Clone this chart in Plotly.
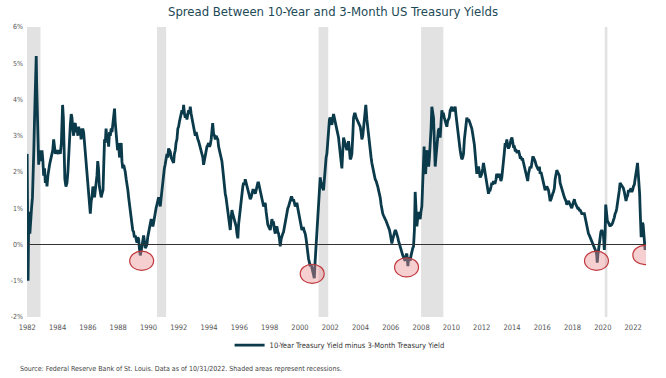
import plotly.graph_objects as go

# ---- data (year fraction, spread in %) ----
years = [
1981.99,1982.03,1982.05,1982.08,1982.12,1982.17,1982.22,1982.28,1982.34,1982.38,1982.43,1982.48,1982.53,1982.57,1982.59,1982.62,1982.66,1982.70,1982.75,1982.80,1982.86,1982.92,1982.97,
1983.03,1983.08,1983.14,1983.19,1983.25,1983.30,1983.36,1983.41,1983.47,1983.52,1983.60,1983.68,1983.74,1983.80,1983.85,1983.91,1983.96,
1984.05,1984.12,1984.18,1984.25,1984.30,1984.33,1984.38,1984.43,1984.48,1984.55,1984.62,1984.68,1984.73,1984.79,1984.84,1984.90,1984.95,
1985.00,1985.06,1985.12,1985.17,1985.23,1985.28,1985.34,1985.39,1985.45,1985.50,1985.55,1985.60,1985.66,1985.72,1985.78,1985.83,1985.89,1985.94,
1986.00,1986.05,1986.10,1986.16,1986.22,1986.27,1986.33,1986.38,1986.44,1986.49,1986.55,1986.60,1986.65,1986.70,1986.76,1986.82,1986.88,1986.93,
1987.00,1987.04,1987.10,1987.15,1987.20,1987.26,1987.32,1987.37,1987.43,1987.48,1987.54,1987.59,1987.65,1987.70,1987.76,1987.80,1987.85,1987.90,1987.96,
1988.02,1988.09,1988.15,1988.20,1988.25,1988.30,1988.36,1988.42,1988.47,1988.53,1988.58,1988.64,1988.69,1988.75,1988.80,1988.85,1988.90,1988.96,
1989.02,1989.07,1989.13,1989.18,1989.24,1989.30,1989.35,1989.40,1989.46,1989.51,1989.57,1989.62,1989.68,1989.73,1989.79,1989.85,1989.90,1989.95,
1990.00,1990.06,1990.12,1990.18,1990.23,1990.29,1990.34,1990.40,1990.45,1990.50,1990.56,1990.62,1990.67,1990.73,1990.78,1990.84,1990.89,1990.95,
1991.00,1991.05,1991.10,1991.16,1991.22,1991.27,1991.33,1991.38,1991.44,1991.50,1991.55,1991.60,1991.66,1991.71,1991.77,1991.82,1991.88,1991.94,1991.99,
1992.05,1992.10,1992.16,1992.21,1992.27,1992.32,1992.38,1992.43,1992.49,1992.54,1992.60,1992.65,1992.71,1992.76,1992.82,1992.87,1992.93,1992.98,
1993.04,1993.09,1993.15,1993.20,1993.26,1993.31,1993.37,1993.42,1993.48,1993.53,1993.59,1993.64,1993.70,1993.75,1993.81,1993.86,1993.92,1993.97,
1994.03,1994.08,1994.14,1994.19,1994.24,1994.30,1994.36,1994.41,1994.47,1994.52,1994.58,1994.63,1994.69,1994.74,1994.80,1994.85,1994.90,1994.96,
1995.01,1995.07,1995.12,1995.18,1995.23,1995.29,1995.34,1995.40,1995.45,1995.51,1995.56,1995.62,1995.68,1995.73,1995.79,1995.84,1995.90,1995.95,
1996.01,1996.06,1996.12,1996.17,1996.23,1996.28,1996.34,1996.39,1996.45,1996.50,1996.56,1996.61,1996.67,1996.72,1996.78,1996.83,1996.89,1996.94,
1997.00,1997.05,1997.11,1997.16,1997.22,1997.27,1997.33,1997.38,1997.44,1997.49,1997.55,1997.60,1997.66,1997.71,1997.77,1997.82,1997.88,1997.93,1997.99,
1998.04,1998.10,1998.15,1998.20,1998.26,1998.32,1998.37,1998.43,1998.48,1998.54,1998.59,1998.65,1998.70,1998.76,1998.81,1998.87,1998.92,1998.98,
1999.03,1999.09,1999.14,1999.20,1999.25,1999.31,1999.36,1999.42,1999.47,1999.53,1999.58,1999.64,1999.69,1999.75,1999.80,1999.86,1999.91,1999.97,
2000.02,2000.08,2000.13,2000.19,2000.24,2000.30,2000.35,2000.41,2000.46,2000.52,2000.57,2000.63,2000.68,2000.74,2000.79,2000.85,2000.90,2000.95,
2001.00,2001.06,2001.12,2001.17,2001.23,2001.28,2001.34,2001.40,2001.45,2001.50,2001.56,2001.62,2001.67,2001.73,2001.78,2001.84,2001.89,2001.95,
2002.00,2002.05,2002.11,2002.16,2002.22,2002.27,2002.33,2002.38,2002.44,2002.50,2002.55,2002.60,2002.66,2002.72,2002.77,2002.82,2002.88,2002.94,2002.99,
2003.05,2003.10,2003.16,2003.21,2003.27,2003.32,2003.38,2003.43,2003.49,2003.54,2003.60,2003.65,2003.71,2003.76,2003.82,2003.87,2003.93,2003.98,
2004.04,2004.09,2004.15,2004.20,2004.26,2004.31,2004.35,2004.42,2004.48,2004.53,2004.59,2004.64,2004.70,2004.75,2004.81,2004.86,2004.92,2004.97,
2005.03,2005.08,2005.14,2005.19,2005.25,2005.30,2005.36,2005.41,2005.47,2005.52,2005.58,2005.63,2005.69,2005.74,2005.80,2005.85,2005.91,2005.96,
2006.02,2006.07,2006.13,2006.18,2006.24,2006.29,2006.35,2006.40,2006.46,2006.51,2006.57,2006.62,2006.68,2006.73,2006.79,2006.84,2006.90,2006.95,
2007.01,2007.06,2007.10,2007.13,2007.18,2007.23,2007.28,2007.34,2007.39,2007.45,2007.50,2007.56,2007.61,2007.66,2007.72,2007.77,2007.83,2007.88,2007.94,2007.99,
2008.05,2008.10,2008.16,2008.20,2008.25,2008.30,2008.35,2008.40,2008.45,2008.50,2008.55,2008.60,2008.66,2008.71,2008.76,2008.82,2008.88,2008.93,2008.98,
2009.04,2009.09,2009.14,2009.20,2009.26,2009.31,2009.37,2009.42,2009.48,2009.53,2009.59,2009.64,2009.70,2009.75,2009.81,2009.86,2009.92,2009.97,
2010.03,2010.08,2010.14,2010.20,2010.25,2010.31,2010.36,2010.42,2010.47,2010.53,2010.58,2010.64,2010.69,2010.75,2010.80,2010.86,2010.91,2010.97,
2011.02,2011.08,2011.13,2011.19,2011.24,2011.30,2011.35,2011.41,2011.46,2011.52,2011.57,2011.63,2011.68,2011.74,2011.79,2011.85,2011.90,2011.96,
2012.01,2012.07,2012.12,2012.18,2012.23,2012.29,2012.34,2012.40,2012.45,2012.51,2012.56,2012.62,2012.67,2012.73,2012.78,2012.84,2012.89,2012.95,2012.99,
2013.05,2013.10,2013.16,2013.22,2013.27,2013.33,2013.38,2013.44,2013.50,2013.55,2013.61,2013.66,2013.72,2013.77,2013.83,2013.88,2013.94,
2014.00,2014.05,2014.10,2014.16,2014.21,2014.27,2014.32,2014.38,2014.43,2014.49,2014.54,2014.60,2014.65,2014.71,2014.76,2014.82,2014.87,2014.93,2014.98,
2015.04,2015.09,2015.15,2015.20,2015.26,2015.31,2015.37,2015.42,2015.48,2015.53,2015.59,2015.64,2015.70,2015.75,2015.81,2015.86,2015.92,2015.97,
2016.03,2016.08,2016.14,2016.19,2016.25,2016.30,2016.36,2016.41,2016.47,2016.52,2016.58,2016.63,2016.69,2016.74,2016.80,2016.85,2016.91,2016.96,
2017.02,2017.07,2017.13,2017.18,2017.24,2017.29,2017.35,2017.40,2017.46,2017.51,2017.57,2017.62,2017.68,2017.73,2017.79,2017.84,2017.90,2017.95,
2018.01,2018.06,2018.12,2018.17,2018.23,2018.28,2018.34,2018.39,2018.45,2018.50,2018.56,2018.61,2018.67,2018.72,2018.78,2018.83,2018.89,2018.94,
2019.00,2019.05,2019.11,2019.16,2019.22,2019.27,2019.33,2019.38,2019.44,2019.49,2019.55,2019.60,2019.63,2019.67,2019.71,2019.76,2019.82,2019.87,2019.93,2019.98,
2020.04,2020.10,2020.15,2020.19,2020.24,2020.30,2020.37,2020.43,2020.48,2020.54,2020.59,2020.65,2020.70,2020.76,2020.81,2020.87,2020.92,2020.98,
2021.03,2021.09,2021.14,2021.20,2021.25,2021.31,2021.36,2021.42,2021.47,2021.53,2021.58,2021.64,2021.69,2021.75,2021.80,2021.86,2021.91,2021.97,
2022.02,2022.08,2022.13,2022.18,2022.24,2022.29,2022.33,2022.38,2022.43,2022.46,2022.50,2022.53,2022.57,2022.62,2022.66,2022.70,2022.74,2022.79,2022.83,
]

spread = [
2.5,0.8,-1.0,0.2,0.9,0.3,0.8,1.0,1.3,1.7,2.6,3.5,4.4,5.0,5.2,4.4,3.7,2.9,2.2,2.5,2.6,2.3,2.6,
2.3,1.9,2.1,1.7,1.9,1.6,1.9,2.1,2.2,2.3,2.5,2.6,2.9,2.6,2.5,2.6,2.55,
2.5,2.6,2.5,2.8,3.6,3.85,3.5,2.4,1.8,1.6,1.7,2.0,2.5,3.0,3.3,3.6,3.5,
3.2,3.0,3.3,3.35,3.1,3.2,3.0,3.25,3.1,3.2,2.9,3.0,3.2,3.1,2.8,2.5,2.3,2.0,
1.7,1.5,1.1,0.85,1.2,1.3,1.6,1.4,1.3,1.5,1.7,1.9,2.3,2.1,1.6,1.4,1.3,1.4,
1.5,2.1,2.9,2.8,3.2,2.9,3.0,2.7,3.1,3.0,3.2,3.1,3.3,3.6,3.75,3.4,3.2,2.9,2.6,
2.8,2.4,2.6,2.8,2.3,2.1,2.2,2.1,2.0,1.8,1.7,1.5,1.3,1.1,0.9,0.7,0.6,0.4,
0.35,0.2,0.25,0.1,0.05,0.2,0.15,-0.1,-0.3,-0.2,-0.05,0.2,0.25,0.1,-0.1,-0.05,0.0,0.2,
0.3,0.4,0.5,0.7,0.6,0.5,0.6,0.8,0.9,1.0,1.1,1.2,1.3,1.2,1.05,1.3,1.55,1.8,
1.95,2.1,2.2,2.4,2.5,2.4,2.65,2.6,2.55,2.4,2.35,2.3,2.25,2.5,2.6,2.8,2.9,3.2,3.25,
3.4,3.5,3.6,3.7,3.6,3.85,3.6,3.5,3.6,3.45,3.6,3.7,3.6,3.8,3.6,3.5,3.4,3.3,
3.2,3.0,3.1,2.95,2.9,2.85,2.75,2.7,2.6,2.5,2.4,2.2,2.35,2.45,2.6,2.7,2.75,2.8,
2.7,2.75,2.9,3.25,3.35,3.05,3.0,2.9,3.0,2.95,2.9,2.7,2.6,2.5,2.45,2.3,2.1,1.8,
1.6,1.4,1.3,1.1,0.9,0.7,0.55,0.4,0.7,0.95,0.85,0.75,0.7,0.65,0.5,0.3,0.17,0.55,
0.8,0.95,1.2,1.4,1.6,1.7,1.65,1.8,1.7,1.6,1.5,1.5,1.35,1.25,1.3,1.4,1.5,1.5,
1.45,1.4,1.5,1.6,1.7,1.7,1.6,1.5,1.4,1.3,1.15,1.05,1.1,1.15,0.9,0.7,0.55,0.5,0.45,
0.4,0.55,0.7,0.6,0.6,0.4,0.3,0.45,0.5,0.35,0.3,0.15,-0.05,0.15,0.25,0.3,0.35,0.5,
0.6,0.75,0.9,1.0,1.05,1.15,1.25,1.3,1.3,1.2,1.25,1.15,1.05,1.1,1.15,1.0,0.9,0.75,
0.65,0.5,0.4,0.45,0.45,0.35,0.3,0.15,-0.05,-0.25,-0.4,-0.5,-0.6,-0.55,-0.65,-0.7,-0.8,-0.93,
-0.5,-0.1,0.2,0.6,1.0,1.5,1.85,1.7,1.6,1.55,1.5,1.9,2.3,2.4,2.5,2.9,3.25,3.45,
3.5,3.4,3.3,3.45,3.6,3.5,3.4,3.3,3.2,3.05,2.95,2.75,2.5,2.3,2.1,2.5,2.95,2.85,2.75,
2.7,2.6,2.75,2.85,2.6,2.35,2.4,2.5,3.0,3.5,3.6,3.6,3.5,3.45,3.4,3.35,3.3,3.25,
3.1,2.9,3.0,3.25,3.55,3.8,3.85,3.45,3.2,2.95,2.75,2.5,2.4,2.25,2.1,1.95,1.85,1.8,
1.75,1.7,1.6,1.5,1.4,1.3,1.1,0.95,0.85,0.8,0.7,0.7,0.65,0.6,0.55,0.5,0.4,0.3,
0.15,0.03,0.15,0.25,0.35,0.4,0.35,0.3,0.2,0.1,0.0,-0.05,-0.15,-0.25,-0.3,-0.35,-0.4,-0.45,
-0.3,-0.25,-0.45,-0.6,-0.35,-0.4,-0.45,-0.3,-0.15,-0.1,-0.05,0.4,1.45,0.7,0.5,0.7,0.9,0.8,0.7,0.9,
1.05,1.6,2.3,2.7,2.0,1.95,2.4,2.6,2.3,2.15,2.4,2.7,3.2,3.8,3.6,3.5,2.8,2.15,2.4,
2.7,2.9,3.15,3.2,2.95,3.3,3.7,3.6,3.6,3.5,3.4,3.35,3.25,3.4,3.5,3.5,3.7,3.75,
3.8,3.7,3.7,3.75,3.8,3.55,3.35,3.15,2.95,2.8,2.6,2.45,2.35,2.4,2.5,2.9,3.15,3.3,
3.5,3.4,3.45,3.4,3.35,3.3,3.2,3.05,2.95,2.75,2.5,2.2,1.95,2.1,2.15,2.0,1.85,1.9,
1.95,2.1,2.25,2.1,1.95,1.8,1.7,1.55,1.4,1.5,1.5,1.6,1.7,1.65,1.75,1.7,1.7,1.8,1.95,
1.9,1.85,1.95,1.8,1.75,1.85,2.0,2.3,2.55,2.8,2.75,2.9,2.7,2.65,2.7,2.85,2.9,
2.95,2.75,2.7,2.7,2.6,2.6,2.55,2.55,2.6,2.5,2.4,2.4,2.35,2.35,2.25,2.2,2.05,1.9,1.8,
1.75,1.95,2.05,2.15,2.1,2.3,2.4,2.4,2.35,2.3,2.2,2.15,2.05,2.05,2.15,1.95,2.0,1.9,
1.8,1.65,1.55,1.5,1.55,1.6,1.55,1.5,1.35,1.2,1.25,1.35,1.4,1.45,1.55,1.8,2.0,2.05,
2.0,1.95,1.9,1.7,1.6,1.55,1.45,1.4,1.3,1.25,1.2,1.1,1.15,1.2,1.15,1.1,1.05,1.0,
1.1,1.2,1.25,1.15,1.05,1.05,1.0,1.0,0.95,0.95,0.9,0.85,0.85,0.85,0.85,0.75,0.6,0.5,
0.4,0.3,0.25,0.2,0.15,0.1,0.05,-0.05,-0.1,-0.15,-0.2,-0.3,-0.5,-0.3,-0.15,0.05,0.2,0.35,0.4,0.35,
0.25,-0.15,0.3,1.1,0.75,0.65,0.6,0.55,0.5,0.55,0.55,0.6,0.65,0.75,0.85,0.9,1.0,1.15,
1.3,1.5,1.7,1.65,1.65,1.6,1.55,1.45,1.25,1.2,1.3,1.35,1.5,1.45,1.5,1.55,1.45,1.5,
1.6,1.65,1.8,1.9,2.1,2.25,2.05,1.75,1.4,1.0,0.5,0.2,0.4,0.6,0.55,0.2,0.05,-0.15,0.0,
]

recessions = [(1981.55, 1982.87), (1990.56, 1991.17), (2001.23, 2001.87), (2008.0, 2009.47), (2020.13, 2020.3)]
inversion_marks = [(1989.55, -0.45), (2000.81, -0.81), (2007.04, -0.63), (2019.58, -0.45), (2022.77, -0.29)]
year_ticks = list(range(1982, 2023, 2))
pct_ticks = [-2, -1, 0, 1, 2, 3, 4, 5, 6]
pct_labels = [f"{v}%" for v in pct_ticks]

LINE = "#0b3a4b"
FONT = "DejaVu Sans Condensed, DejaVu Sans, sans-serif"
x_min, x_max = 1981.98, 2022.85

fig = go.Figure()
fig.add_trace(go.Scatter(
    x=years, y=spread, mode="lines",
    line=dict(color=LINE, width=2.8),
    name="10-Year Treasury Yield minus 3-Month Treasury Yield",
))

shapes = []
for a, b in recessions:
    shapes.append(dict(type="rect", xref="x", yref="y", x0=max(a, x_min), x1=b, y0=-2, y1=6,
                       fillcolor="#e2e2e2", line=dict(width=0), layer="below"))
shapes.append(dict(type="line", xref="x", yref="y", x0=x_min, x1=x_max, y0=0, y1=0,
                   line=dict(color="#333333", width=1), layer="above"))
rx, ry = 0.79, 0.265
for cx, cy in inversion_marks:
    shapes.append(dict(type="circle", xref="x", yref="y", x0=cx - rx, x1=cx + rx, y0=cy - ry, y1=cy + ry,
                       fillcolor="rgba(234,140,145,0.42)", line=dict(color="#c0393e", width=1.2), layer="above"))

fig.update_layout(
    width=666, height=378,
    margin=dict(l=27, r=20, t=27, b=61, autoexpand=False),
    paper_bgcolor="white", plot_bgcolor="white",
    font=dict(family=FONT, color="#555555", size=7.5),
    title=dict(text="Spread Between 10-Year and 3-Month US Treasury Yields",
               x=0.5, xanchor="center", y=1 - 11 / 378, yanchor="middle",
               font=dict(family=FONT, size=13, color="#1d4a57")),
    xaxis=dict(range=[x_min, x_max], tickvals=year_ticks, ticktext=[str(y) for y in year_ticks],
               showgrid=False, zeroline=False, showline=False, ticks="", automargin=False,
               ticklabelstandoff=4, tickfont=dict(size=7.5, color="#555555")),
    yaxis=dict(range=[-2, 6], tickvals=pct_ticks, ticktext=pct_labels,
               showgrid=False, zeroline=False, showline=False, ticks="", automargin=False,
               ticklabelstandoff=3, tickfont=dict(size=7, color="#555555")),
    showlegend=True,
    legend=dict(orientation="h", x=0.505, xanchor="center", y=-0.097, yanchor="middle",
                font=dict(size=7.5, color="#333333"), bgcolor="rgba(0,0,0,0)"),
    shapes=shapes,
    annotations=[dict(text="Source: Federal Reserve Bank of St. Louis. Data as of 10/31/2022. Shaded areas represent recessions.",
                      xref="paper", yref="paper", x=-0.0145, y=-0.179, xanchor="left", yanchor="middle",
                      showarrow=False, font=dict(size=7, color="#444444"))],
)

# remove the default 8px page margin so the figure fills the window exactly
fig.write_html("out.html", config={"displayModeBar": False},
               post_script="document.body.style.margin='0';")
